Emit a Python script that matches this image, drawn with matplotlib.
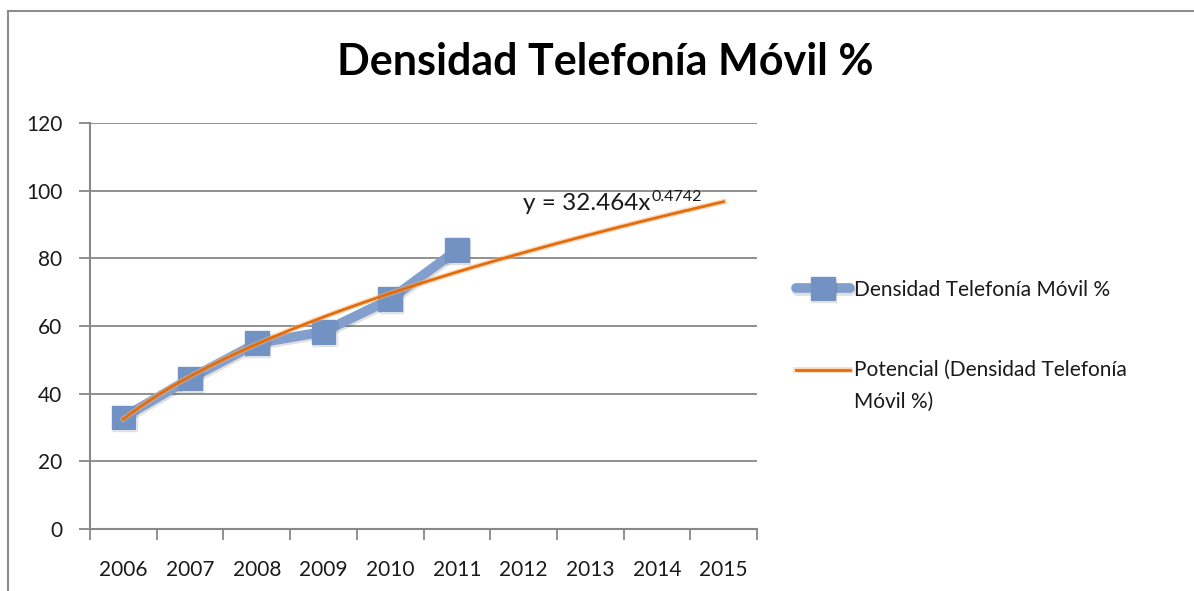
import numpy as np
import matplotlib
matplotlib.use("Agg")
import matplotlib.pyplot as plt
import matplotlib.patheffects as pe
from matplotlib.lines import Line2D

years = ["2006", "2007", "2008", "2009", "2010", "2011", "2012", "2013", "2014", "2015"]
densidad = [33.0, 44.5, 54.9, 58.3, 67.9, 82.4]

# power trendline as printed on the chart
coef_a = 32.464
coef_b = 0.4742

W, H = 1194, 591
plt.rcParams['font.family'] = ['Lato', 'DejaVu Sans']

fig = plt.figure(figsize=(W / 100, H / 100), dpi=100)
fig.patch.set_facecolor("white")

# outer chart frame (top and left edges visible)
fig.add_artist(Line2D([8 / W, 8 / W], [0, 1 - 11 / H], color="#8c8c8c", lw=1.5, transform=fig.transFigure))
fig.add_artist(Line2D([8 / W, 1], [1 - 11 / H, 1 - 11 / H], color="#8c8c8c", lw=1.5, transform=fig.transFigure))

ax = fig.add_axes([90 / W, 1 - 529 / H, (757 - 90) / W, (529 - 123) / H])
ax.set_xlim(-0.5, len(years) - 0.5)
ax.set_ylim(0, 120)

grid_c = "#888888"
ax.set_yticks(np.arange(0, 121, 20))
ax.yaxis.grid(True, color=grid_c, lw=1.3)
ax.set_axisbelow(True)
for s in ["top", "right"]:
    ax.spines[s].set_visible(False)
ax.spines["left"].set_color(grid_c)
ax.spines["bottom"].set_color(grid_c)
ax.spines["left"].set_linewidth(1.5)
ax.spines["bottom"].set_linewidth(1.5)

ax.set_xticks(range(len(years)))
ax.set_xticklabels(years)
ax.set_xticks(np.arange(-0.5, len(years), 1.0), minor=True)
ax.tick_params(axis="x", which="major", length=0, pad=22, labelsize=15, colors="#1a1a1a")
ax.tick_params(axis="x", which="minor", length=8, width=1.3, color=grid_c)
ax.tick_params(axis="y", length=8, width=1.3, color=grid_c, pad=12, labelsize=15, labelcolor="#1a1a1a")

shadow = [pe.SimpleLineShadow(offset=(1, -1.5), shadow_color="#000000", alpha=0.12), pe.Normal()]

xs = np.arange(len(densidad))
ax.plot(xs, densidad, color="#819ecc", lw=7, marker="s", markersize=17,
        markerfacecolor="#7392c4", markeredgecolor="#7392c4", solid_capstyle="round",
        path_effects=shadow, zorder=3, label="Densidad Telefonía Móvil %")

tx = np.linspace(1, len(years), 200)
ty = coef_a * tx ** coef_b
ax.plot(tx - 1, ty, color="#e46c0a", lw=2, zorder=4,
        path_effects=[pe.Stroke(linewidth=4, foreground="#f5b27a", alpha=0.5), pe.Normal()],
        label="Potencial (Densidad Telefonía\nMóvil %)")

# trendline equation, superscript drawn as its own text
ax.text(7.9, 94.4, "y = 32.464x", fontsize=17.5, color="#1a1a1a", ha="right", va="baseline")
ax.text(7.92, 96.8, "0.4742", fontsize=11.5, color="#1a1a1a", ha="left", va="baseline")

fig.text(605 / W, 1 - 62 / H, "Densidad Telefonía Móvil %", fontsize=31, fontweight="bold",
         ha="center", va="center", color="black")

leg = ax.legend(loc="upper left", bbox_to_anchor=(1.03, 0.66), frameon=False, fontsize=15,
                handlelength=2.6, handletextpad=0.2, labelspacing=2.9)
for t in leg.get_texts():
    t.set_color("#1a1a1a")
    t.set_linespacing(1.75)
# align the trendline handle with the first line of its label
trend_handle = leg.legend_handles[1]
trend_handle.set_ydata(np.asarray(trend_handle.get_ydata()) + 12.2)

fig.savefig("out.png", dpi=100, facecolor="white")
